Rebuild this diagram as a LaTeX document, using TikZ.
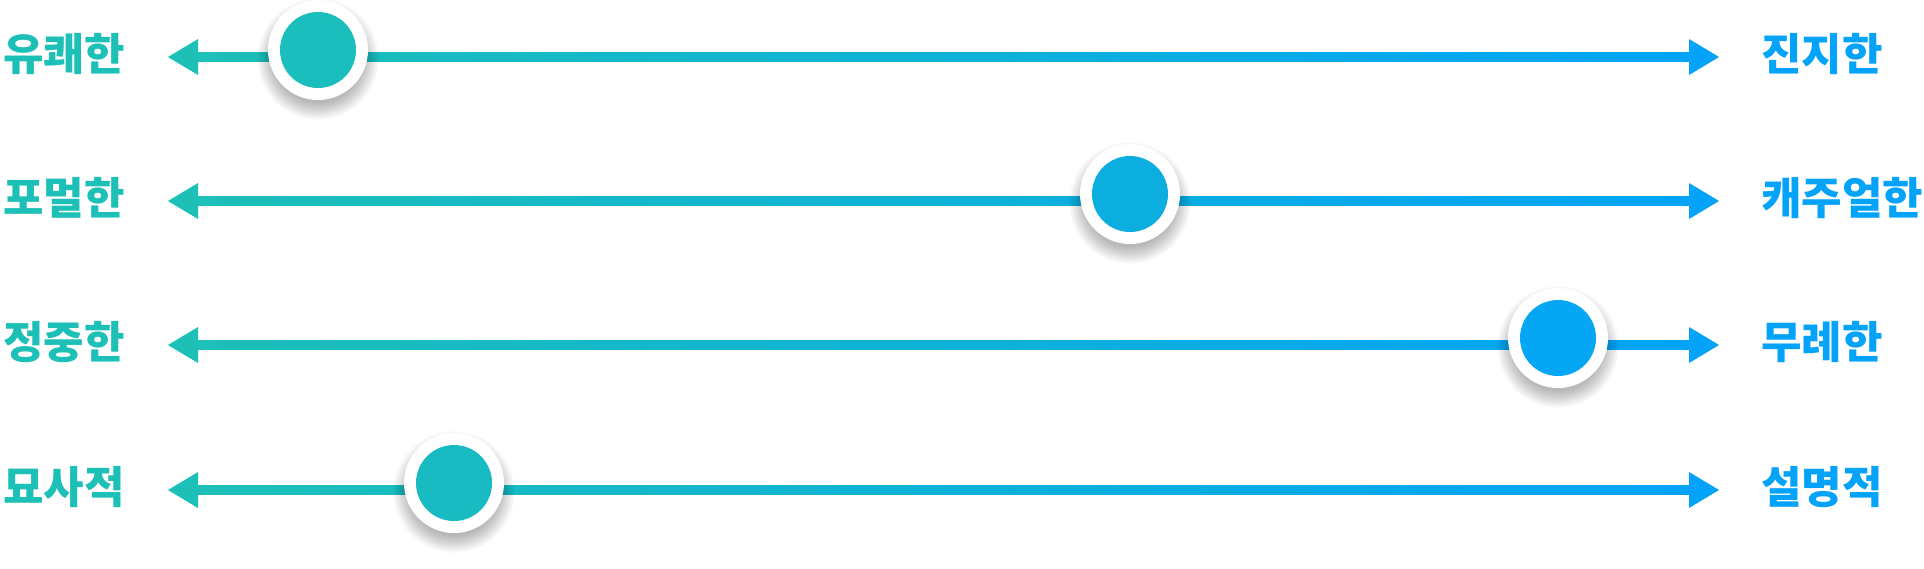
\documentclass[tikz,border=0pt]{standalone}
\usepackage{fontspec}
\newfontfamily\kr{Noto Sans CJK KR}
\usetikzlibrary{calc}
\definecolor{tealc}{HTML}{1CC0B6}
\definecolor{bluec}{HTML}{03A3FA}
\tikzset{
  lbl/.style={inner sep=0pt, font=\kr\bfseries\fontsize{44}{44}\selectfont},
  ltext/.style={lbl, anchor=east, text=tealc},
  rtext/.style={lbl, anchor=west, text=bluec},
  ring/.style={circle, fill=white, minimum size=100pt, inner sep=0pt},
  knob/.style={circle, minimum size=76pt, inner sep=0pt},
}
\begin{document}
\begin{tikzpicture}[x=1pt,y=-1pt]
\fill[white] (0,0) rectangle (1924,568);
\useasboundingbox (0,0) rectangle (1924,568);
\foreach \n/\y/\kx/\lt/\rt in {1/57/318/유쾌한/진지한, 2/201/1130/포멀한/캐주얼한, 3/345/1558/정중한/무례한, 4/490/454/묘사적/설명적}{
  \coordinate (l\n) at (168,\y);
  \coordinate (r\n) at (1719,\y);
  % gradient bar
  \shade[left color=tealc, right color=bluec] ($(l\n)+(24,-4.3)$) rectangle ($(r\n)+(-24,4.3)$);
  % arrow heads
  \fill[tealc] (l\n) -- ++(30,-18) -- ++(0,36) -- cycle;
  \fill[bluec] (r\n) -- ++(-30,-18) -- ++(0,36) -- cycle;
  % labels
  \node[ltext] (lt\n) at (125,\y-3) {\lt};
  \node[rtext] (rt\n) at (1761,\y-3) {\rt};
  % knob colour
  \pgfmathsetmacro\pc{100*(1-(\kx-192)/(1695-192))}
  % shadow
  \foreach \i in {0,...,14}{
    \fill[black, opacity=0.018] (\kx,\y+2) circle ({44+\i*1.2});
  }
  \node[ring] (ring\n) at (\kx,\y-7) {};
  \node[knob, fill=tealc!\pc!bluec] (k\n) at (ring\n.center) {};
}
\end{tikzpicture}
\end{document}
